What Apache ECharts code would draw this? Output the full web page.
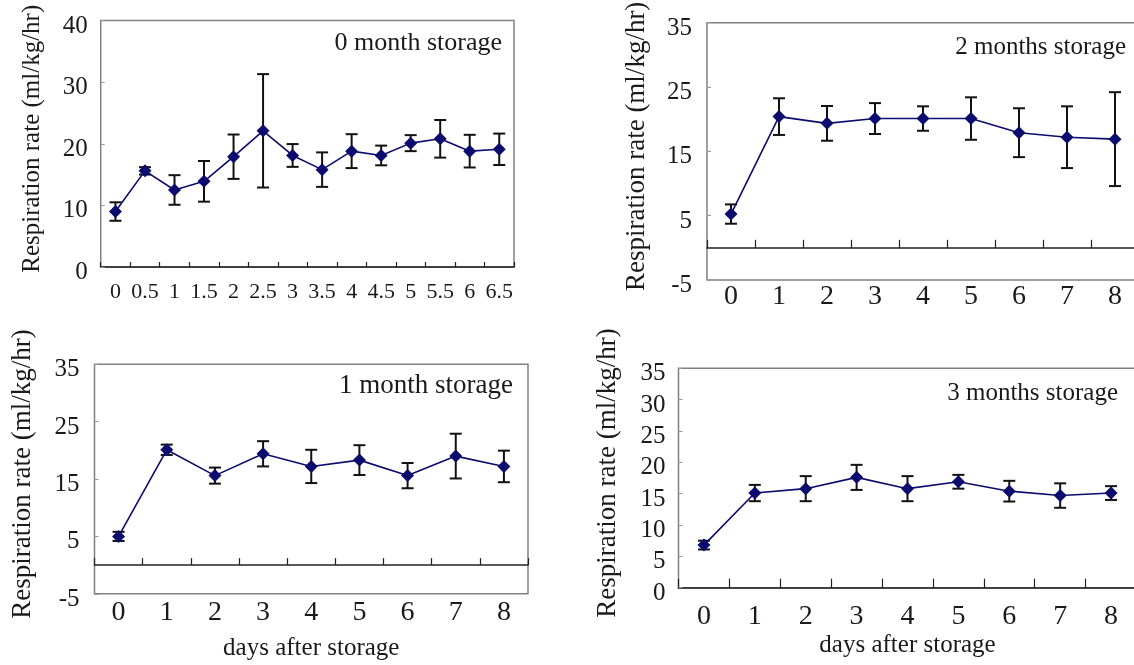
<!DOCTYPE html>
<html><head><meta charset="utf-8">
<script src="https://cdn.jsdelivr.net/npm/echarts@6/dist/echarts.min.js"></script>
<style>html,body{margin:0;padding:0;background:#fff}#c{width:1134px;height:665px}</style>
</head><body><div id="c"></div>
<script>
// ---- data ----
const days0 = ['0','0.5','1','1.5','2','2.5','3','3.5','4','4.5','5','5.5','6','6.5'];
const days = ['0','1','2','3','4','5','6','7','8'];
const mean0 = [9.0,15.6,12.5,13.9,17.9,22.1,18.1,15.8,18.8,18.1,20.1,20.8,18.8,19.1];
const err0  = [1.5,0.6,2.4,3.3,3.6,9.2,1.85,2.8,2.75,1.6,1.3,3.05,2.65,2.55];
const mean1 = [5.0,20.1,15.6,19.4,17.2,18.3,15.6,19.0,17.2];
const err1  = [0.8,0.9,1.4,2.2,2.9,2.6,2.2,3.9,2.75];
const mean2 = [5.25,20.4,19.35,20.1,20.1,20.1,17.9,17.2,16.9];
const err2  = [1.5,2.85,2.7,2.4,1.9,3.3,3.8,4.8,7.3];
const mean3 = [6.8,15.1,15.8,17.6,15.8,16.9,15.4,14.7,15.1];
const err3  = [0.7,1.3,2.0,2.0,2.0,1.1,1.65,1.95,1.1];
const yTicks0 = [0,10,20,30,40];
const yTicks1 = [-5,5,15,25,35];
const yTicks2 = [-5,5,15,25,35];
const yTicks3 = [0,5,10,15,20,25,30,35];
const titles = ['0 month storage','2 months storage','1 month storage','3 months storage'];
const yName = 'Respiration rate (ml/kg/hr)';
const xName = 'days after storage';

// ---- style ----
const FONT = 'Liberation Serif';
const TXT = '#1a1a1a';
const NAVY = '#0c0c6e';

function errRender(params, api){
  const x = api.value(0), m = api.value(1), e = api.value(2);
  const hi = api.coord([x, m+e]), lo = api.coord([x, m-e]);
  const w = 6;
  const style = {stroke:'#111', lineWidth:2};
  return {type:'group', children:[
    {type:'line', shape:{x1:hi[0],y1:hi[1],x2:lo[0],y2:lo[1]}, style},
    {type:'line', shape:{x1:hi[0]-w,y1:hi[1],x2:hi[0]+w,y2:hi[1]}, style},
    {type:'line', shape:{x1:lo[0]-w,y1:lo[1],x2:lo[0]+w,y2:lo[1]}, style}
  ]};
}

const grids = [
  {left:100.7, top:20.5, width:413.3, height:246.5},
  {left:707, top:22.7, width:432, height:257.3},
  {left:94.5, top:364.3, width:433.5, height:229.5},
  {left:678.5, top:368.3, width:458, height:219.4}
].map(g => Object.assign(g, {show:true, borderColor:'#808080', borderWidth:1.5, backgroundColor:'#fff', containLabel:false, outerBoundsMode:'none'}));

function xLineAxis(gi, cats, showLabel, fs, margin, tickLen, nameGap){
  return {
    type:'category', gridIndex:gi, data:cats, boundaryGap:true,
    axisLine:{show:true, onZero:true, lineStyle:{color:'#222', width:1.5}},
    axisTick:{show:true, inside:true, length:tickLen, interval:0, lineStyle:{color:'#222', width:1.2}},
    axisLabel:{show:showLabel, interval:0, fontFamily:FONT, fontSize:fs, color:TXT, margin:margin},
    splitLine:{show:false},
    name: nameGap ? xName : '', nameLocation:'middle', nameGap: nameGap || 0,
    nameTextStyle:{fontFamily:FONT, fontSize:25, color:TXT}
  };
}
function xLabelAxis(gi, cats, fs, margin, nameGap){
  return {
    type:'category', gridIndex:gi, data:cats, boundaryGap:true, position:'bottom',
    axisLine:{show:false, onZero:false},
    axisTick:{show:false},
    axisLabel:{show:true, interval:0, fontFamily:FONT, fontSize:fs, color:TXT, margin:margin},
    splitLine:{show:false},
    name: nameGap ? xName : '', nameLocation:'middle', nameGap: nameGap || 0,
    nameTextStyle:{fontFamily:FONT, fontSize:25, color:TXT}
  };
}
function yAx(gi, ticks, fs, margin, nameGap, nameFs){
  return {
    type:'value', gridIndex:gi,
    min:ticks[0], max:ticks[ticks.length-1], interval:ticks[1]-ticks[0],
    axisLine:{show:false},
    axisTick:{show:true, inside:true, length:4, lineStyle:{color:'#999'}},
    axisLabel:{fontFamily:FONT, fontSize:fs, color:TXT, margin:margin, verticalAlign:'top', lineHeight:11},
    splitLine:{show:false},
    name:yName, nameLocation:'middle', nameRotate:90, nameGap:nameGap,
    nameTextStyle:{fontFamily:FONT, fontSize:nameFs, color:TXT, padding:[0,0,0,10]}
  };
}

const xAxes = [
  xLineAxis(0, days0, true, 22, 14, 5, 0),   // 0 panel 0 month
  xLineAxis(1, days, false, 28, 3, 8, 0),    // 1 panel 2 months line
  xLabelAxis(1, days, 28, 3, 0),             // 2 panel 2 months labels
  xLineAxis(2, days, false, 28, 5, 7, 0),    // 3 panel 1 month line
  xLabelAxis(2, days, 28, 5, 42),            // 4 panel 1 month labels
  xLineAxis(3, days, true, 28, 15, 9, 45)    // 5 panel 3 months
];
const yAxes = [
  yAx(0, yTicks0, 25, 13, 56, 25),
  yAx(1, yTicks1, 25, 15, 57, 27),
  yAx(2, yTicks2, 25, 15, 58, 27),
  yAx(3, yTicks3, 25, 13, 57, 27)
];

const panels = [
  {m:mean0, e:err0, xi:0, yi:0},
  {m:mean2, e:err2, xi:1, yi:1},
  {m:mean1, e:err1, xi:3, yi:2},
  {m:mean3, e:err3, xi:5, yi:3}
];
const series = [];
panels.forEach(p => {
  series.push({
    type:'custom', xAxisIndex:p.xi, yAxisIndex:p.yi, renderItem:errRender,
    encode:{x:0, y:1}, z:2, silent:true,
    data:p.m.map((v,i)=>[i, v, p.e[i]])
  });
  series.push({
    type:'line', xAxisIndex:p.xi, yAxisIndex:p.yi, data:p.m, z:3,
    symbol:'diamond', symbolSize:13, showSymbol:true,
    lineStyle:{color:NAVY, width:1.6}, itemStyle:{color:NAVY}
  });
});

const titleCfg = [
  {text:titles[0], right:632, top:30, fs:26},
  {text:titles[1], right:8, top:35, fs:25},
  {text:titles[2], right:621, top:372, fs:27},
  {text:titles[3], right:16, top:381, fs:25}
].map(t => ({text:t.text, right:t.right, top:t.top, padding:0,
  textStyle:{fontFamily:FONT, fontSize:t.fs, fontWeight:'normal', color:TXT}}));

const chart = echarts.init(document.getElementById('c'), null, {renderer:'canvas'});
chart.setOption({
  animation:false,
  backgroundColor:'#fff',
  title:titleCfg,
  grid:grids,
  xAxis:xAxes,
  yAxis:yAxes,
  series:series
});
</script></body></html>
